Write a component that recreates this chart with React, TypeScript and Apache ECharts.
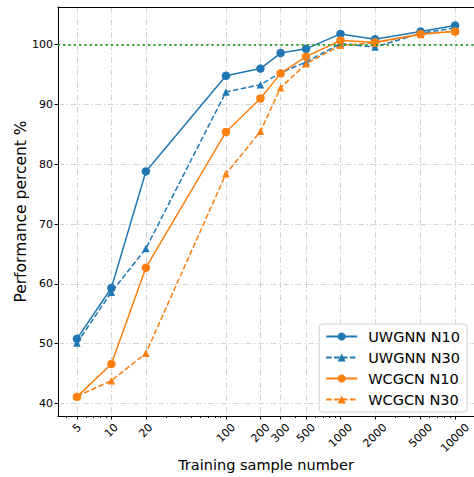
import React, { useEffect, useRef } from "react";
import * as echarts from "echarts";

const samples = [5, 10, 20, 100, 200, 300, 500, 1000, 2000, 5000, 10000];
const uwgnnN10 = [50.8, 59.3, 78.8, 94.8, 96.0, 98.6, 99.3, 101.8, 100.9, 102.2, 103.2];
const uwgnnN30 = [50.1, 58.6, 65.9, 92.1, 93.3, 95.3, 97.1, 100.2, 99.6, 101.9, 102.8];
const wcgcnN10 = [41.1, 46.6, 62.7, 85.4, 91.0, 95.2, 98.0, 100.7, 100.4, 101.8, 102.2];
const wcgcnN30 = [41.2, 43.8, 48.4, 78.4, 85.5, 92.8, 96.8, 99.9, 100.3, 101.7, 102.3];
const yTicks = [40, 50, 60, 70, 80, 90, 100];
const minorTicks = [4, 6, 7, 8, 9, 30, 40, 50, 60, 70, 80, 90, 300, 400, 600, 700, 800, 900, 3000, 4000, 6000, 7000, 8000, 9000];
const referenceValue = 100;

const FONT = "DejaVu Sans";
const X_MIN = 0.534;
const X_MAX = 4.165;

const lg = (v: number) => Math.log10(v);
const labelFor = (v: number) => {
  let best = samples[0];
  for (const s of samples) if (Math.abs(lg(s) - v) < Math.abs(lg(best) - v)) best = s;
  return String(best);
};

export default function App() {
  const ref = useRef<HTMLDivElement>(null);
  useEffect(() => {
    if (!ref.current) return;
    const chart = echarts.init(ref.current, undefined, { renderer: "svg" });

    const labelGroups: { vals: number[]; margin: number }[] = [1, 2, 3, 4, 5].map((len) => ({
      vals: samples.filter((s) => String(s).length === len).map(lg),
      margin: 5 + 0.354 * (7 * len + 13),
    }));

    const baseX = { type: "value", min: X_MIN, max: X_MAX, position: "bottom", gridIndex: 0 };

    const xAxes: any[] = [
      {
        ...baseX,
        name: "Training sample number",
        nameLocation: "middle",
        nameGap: 41,
        nameMoveOverlap: false,
        nameTextStyle: { fontSize: 14.5, color: "#000", fontFamily: FONT },
        axisLine: { show: true, onZero: false, lineStyle: { color: "#000", width: 1 } },
        axisTick: { show: true, customValues: samples.map(lg), length: 3.5, lineStyle: { color: "#000" } },
        axisLabel: { show: false },
        splitLine: { show: true, lineStyle: { color: "#d4d4d4", width: 1, type: [6, 2.5, 1.5, 2.5] } },
      },
      {
        ...baseX,
        axisLine: { show: false, onZero: false },
        axisTick: { show: true, customValues: minorTicks.map(lg), length: 2, lineStyle: { color: "#000" } },
        axisLabel: { show: false },
        splitLine: { show: false },
      },
      {
        ...baseX,
        position: "top",
        axisLine: { show: true, onZero: false, lineStyle: { color: "#000", width: 1 } },
        axisTick: { show: false },
        axisLabel: { show: false },
        splitLine: { show: false },
      },
      ...labelGroups.map((g) => ({
        ...baseX,
        axisLine: { show: false, onZero: false },
        axisTick: { show: false },
        splitLine: { show: false },
        axisLabel: {
          show: true,
          customValues: g.vals,
          rotate: 45,
          align: "center",
          verticalAlign: "middle",
          margin: g.margin,
          fontSize: 11,
          color: "#000",
          fontFamily: FONT,
          formatter: (v: number) => labelFor(v),
        },
      })),
    ];

    const mk = (name: string, data: number[], color: string, dashed: boolean) => ({
      name,
      type: "line",
      xAxisIndex: 0,
      yAxisIndex: 0,
      data: samples.map((s, i) => [lg(s), data[i]]),
      symbol: dashed ? "triangle" : "circle",
      symbolSize: dashed ? 7.5 : 8.5,
      color,
      lineStyle: { color, width: 1.5, type: dashed ? [5.5, 2.4] : "solid" },
      itemStyle: { color },
      z: 2,
    });

    chart.setOption({
      animation: false,
      textStyle: { fontFamily: FONT },
      grid: { left: 58, right: 0, top: 7, bottom: 57, containLabel: false },
      xAxis: xAxes,
      yAxis: {
        type: "value",
        min: 37.9,
        max: 106.3,
        name: "Performance percent %",
        nameLocation: "middle",
        nameGap: 29,
        nameMoveOverlap: false,
        nameTextStyle: { fontSize: 15.5, color: "#000", fontFamily: FONT },
        axisLine: { show: true, onZero: false, lineStyle: { color: "#000", width: 1 } },
        axisTick: { show: true, customValues: yTicks, length: 3.5, lineStyle: { color: "#000" } },
        axisLabel: { customValues: yTicks, fontSize: 11, color: "#000", margin: 5, fontFamily: FONT },
        splitLine: { show: true, lineStyle: { color: "#d4d4d4", width: 1, type: [6, 2.5, 1.5, 2.5] } },
      },
      legend: {
        data: ["UWGNN N10", "UWGNN N30", "WCGCN N10", "WCGCN N30"],
        orient: "vertical",
        right: 7,
        bottom: 65,
        itemWidth: 31,
        itemHeight: 10,
        itemGap: 6,
        padding: [5, 7, 5, 6],
        backgroundColor: "rgba(255,255,255,0.8)",
        borderColor: "#d0d0d0",
        borderWidth: 1,
        borderRadius: 3,
        textStyle: { fontSize: 14.5, color: "#000", fontFamily: FONT, padding: [0, 0, 0, 6] },
      },
      series: [
        mk("UWGNN N10", uwgnnN10, "#1f77b4", false),
        mk("UWGNN N30", uwgnnN30, "#1f77b4", true),
        mk("WCGCN N10", wcgcnN10, "#ff7f0e", false),
        mk("WCGCN N30", wcgcnN30, "#ff7f0e", true),
        {
          name: "reference",
          type: "line",
          data: [],
          z: 3,
          markLine: {
            silent: true,
            symbol: ["none", "none"],
            label: { show: false },
            lineStyle: { color: "#2ca02c", width: 2, type: [2, 3.3] },
            data: [{ yAxis: referenceValue }],
          },
        },
      ],
    });
    return () => chart.dispose();
  }, []);
  return (
    <div
      ref={ref}
      style={{ position: "fixed", left: 0, top: 0, width: 474, height: 477, background: "#fff" }}
    />
  );
}
